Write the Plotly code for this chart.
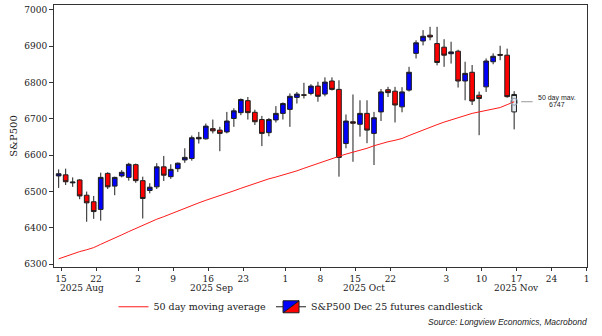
import pandas as pd
import plotly.graph_objects as go

# Daily S&P500 Dec 25 futures bars (trading days, Labor Day closed)
dates = [
    "2025-08-14", "2025-08-15", "2025-08-18", "2025-08-19", "2025-08-20", "2025-08-21",
    "2025-08-22", "2025-08-25", "2025-08-26", "2025-08-27", "2025-08-28", "2025-08-29",
    "2025-09-02", "2025-09-03", "2025-09-04", "2025-09-05", "2025-09-08", "2025-09-09",
    "2025-09-10", "2025-09-11", "2025-09-12", "2025-09-15", "2025-09-16", "2025-09-17",
    "2025-09-18", "2025-09-19", "2025-09-22", "2025-09-23", "2025-09-24", "2025-09-25",
    "2025-09-26", "2025-09-29", "2025-09-30", "2025-10-01", "2025-10-02", "2025-10-03",
    "2025-10-06", "2025-10-07", "2025-10-08", "2025-10-09", "2025-10-10", "2025-10-13",
    "2025-10-14", "2025-10-15", "2025-10-16", "2025-10-17", "2025-10-20", "2025-10-21",
    "2025-10-22", "2025-10-23", "2025-10-24", "2025-10-27", "2025-10-28", "2025-10-29",
    "2025-10-30", "2025-10-31", "2025-11-03", "2025-11-04", "2025-11-05", "2025-11-06",
    "2025-11-07", "2025-11-10", "2025-11-11", "2025-11-12", "2025-11-13", "2025-11-14",
]
opens = [
    6543, 6546, 6524, 6532, 6490, 6472, 6451, 6550, 6515, 6543, 6539, 6574,
    6530, 6503, 6513, 6568, 6541, 6563, 6587, 6591, 6649, 6645, 6673, 6669,
    6664, 6701, 6717, 6750, 6718, 6698, 6662, 6697, 6715, 6726, 6759, 6766,
    6770, 6790, 6768, 6804, 6781, 6632, 6692, 6685, 6715, 6660, 6719, 6780,
    6776, 6733, 6779, 6880, 6914, 6930, 6907, 6897, 6879, 6886, 6804, 6828,
    6765, 6788, 6857, 6877, 6875, 6719,
]
highs = [
    6561, 6563, 6539, 6534, 6500, 6488, 6552, 6553, 6541, 6559, 6579, 6577,
    6541, 6523, 6578, 6598, 6575, 6580, 6619, 6654, 6664, 6687, 6698, 6678,
    6719, 6729, 6756, 6760, 6725, 6708, 6702, 6735, 6745, 6770, 6774, 6799,
    6795, 6802, 6814, 6814, 6806, 6712, 6767, 6751, 6751, 6719, 6782, 6788,
    6788, 6787, 6843, 6916, 6944, 6953, 6953, 6919, 6912, 6890, 6857, 6848,
    6775, 6866, 6880, 6901, 6893, 6776,
]
lows = [
    6510, 6518, 6513, 6479, 6417, 6425, 6420, 6507, 6490, 6539, 6530, 6524,
    6426, 6495, 6507, 6529, 6535, 6554, 6579, 6585, 6632, 6643, 6660, 6611,
    6660, 6678, 6710, 6698, 6683, 6625, 6652, 6690, 6698, 6678, 6742, 6756,
    6765, 6747, 6762, 6778, 6541, 6619, 6582, 6651, 6633, 6573, 6694, 6760,
    6690, 6718, 6775, 6866, 6902, 6916, 6847, 6843, 6852, 6786, 6751, 6738,
    6655, 6774, 6850, 6861, 6758, 6671,
]
closes = [
    6549, 6527, 6526, 6488, 6469, 6445, 6539, 6513, 6539, 6553, 6575, 6530,
    6481, 6512, 6568, 6545, 6561, 6578, 6594, 6648, 6645, 6680, 6667, 6660,
    6694, 6722, 6753, 6717, 6692, 6660, 6698, 6715, 6742, 6762, 6768, 6765,
    6790, 6762, 6801, 6781, 6594, 6694, 6688, 6715, 6669, 6703, 6774, 6772,
    6738, 6774, 6828, 6909, 6927, 6925, 6855, 6875, 6884, 6804, 6825, 6749,
    6756, 6859, 6872, 6875, 6761, 6767,
]
ma50 = [
    6315, 6322, 6329, 6335, 6340, 6346, 6355, 6363, 6372, 6381, 6390, 6399,
    6408, 6416, 6424, 6431, 6439, 6447, 6454, 6461, 6469, 6476, 6482, 6489,
    6496, 6502, 6509, 6516, 6522, 6528, 6535, 6540, 6545, 6550, 6557, 6564,
    6571, 6578, 6585, 6591, 6597, 6603, 6608, 6613, 6619, 6626, 6632, 6637,
    6641, 6646, 6654, 6662, 6670, 6677, 6684, 6691, 6697, 6703, 6710, 6715,
    6719, 6723, 6727, 6731, 6739, 6747,
]

tick_dates = [
    "2025-08-15", "2025-08-22", "2025-09-02", "2025-09-09", "2025-09-16", "2025-09-23",
    "2025-10-01", "2025-10-08", "2025-10-15", "2025-10-22", "2025-11-03", "2025-11-10",
    "2025-11-17", "2025-11-24", "2025-12-01",
]
tick_labels = ["15", "22", "2", "9", "16", "23", "1", "8", "15", "22", "3", "10", "17", "24", "1"]
month_labels = ["2025 Aug", "2025 Sep", "2025 Oct", "2025 Nov"]
y_ticks = [6300, 6400, 6500, 6600, 6700, 6800, 6900, 7000]

# bars stamped at the 16:00 cash close
x = pd.to_datetime(dates) + pd.Timedelta(hours=16)

EDGE = "#1e1e1e"
SERIF = "DejaVu Serif"

fig = go.Figure()

fig.add_trace(go.Scatter(
    x=x, y=ma50, mode="lines", name="50 day moving average",
    line=dict(color="#ff1a1a", width=1),
))

# completed sessions
fig.add_trace(go.Candlestick(
    x=x[:-1], open=opens[:-1], high=highs[:-1], low=lows[:-1], close=closes[:-1],
    name="S&P500 Dec 25 futures candlestick",
    increasing=dict(fillcolor="#0000ff", line=dict(color=EDGE, width=1)),
    decreasing=dict(fillcolor="#ff0000", line=dict(color=EDGE, width=1)),
    whiskerwidth=0,
))

# latest session, shaded light grey
fig.add_trace(go.Candlestick(
    x=x[-1:], open=opens[-1:], high=highs[-1:], low=lows[-1:], close=closes[-1:],
    showlegend=False,
    increasing=dict(fillcolor="#e4e9ef", line=dict(color=EDGE, width=1)),
    decreasing=dict(fillcolor="#e4e9ef", line=dict(color=EDGE, width=1)),
    whiskerwidth=0,
))

# marker on the latest moving-average value
fig.add_trace(go.Scatter(
    x=x[-1:], y=ma50[-1:], mode="markers", showlegend=False,
    marker=dict(symbol="circle-open", size=7, color="#8c9cb0", line=dict(width=1)),
))

annotations = []
# month names under the day ticks
month_pos = ["2025-08-20", "2025-09-16 12:00", "2025-10-16 06:00", "2025-11-17"]
for pos, txt in zip(month_pos, month_labels):
    annotations.append(dict(
        x=pos, xref="x", y=-0.081, yref="paper", text=txt, showarrow=False,
        xanchor="center", yanchor="middle", font=dict(family=SERIF, size=9, color="#1a1a1a"),
    ))

# label for the latest moving-average value
last_x = x[-1]
last_ma = ma50[-1]
annotations.append(dict(
    x=last_x, y=last_ma, xref="x", yref="y", text="", showarrow=True,
    ax=20, ay=0, arrowhead=0, arrowwidth=1, arrowcolor="#9a9a9a", standoff=7,
))
annotations.append(dict(
    x=last_x, y=last_ma, xref="x", yref="y", text="50 day mav.", showarrow=False,
    xshift=43, yshift=4, xanchor="center", yanchor="middle",
    font=dict(family="Liberation Sans", size=7, color="#222222"),
))
annotations.append(dict(
    x=last_x, y=last_ma, xref="x", yref="y", text=f"{last_ma}", showarrow=False,
    xshift=43, yshift=-3, xanchor="center", yanchor="middle",
    font=dict(family="Liberation Sans", size=7, color="#222222"),
))

annotations.append(dict(
    x=1.004, xref="paper", y=-0.21, yref="paper", xanchor="right", yanchor="middle",
    text="Source: Longview Economics, Macrobond", showarrow=False,
    font=dict(family="Liberation Sans", size=8.5, color="#222222", style="italic"),
))

fig.update_layout(
    width=602, height=336,
    margin=dict(l=54, r=15, t=5, b=69),
    paper_bgcolor="white", plot_bgcolor="white",
    font=dict(family=SERIF, size=9, color="#1a1a1a"),
    boxgap=0.05,
    showlegend=True,
    legend=dict(
        orientation="h", xref="container", yref="container",
        x=0.5, xanchor="center", y=0.087, yanchor="middle",
        font=dict(family=SERIF, size=9.5, color="#1a1a1a"),
        itemwidth=30, traceorder="normal", bgcolor="rgba(0,0,0,0)",
    ),
    annotations=annotations,
    xaxis=dict(
        type="date",
        range=["2025-08-14", "2025-12-01 01:30"],
        rangebreaks=[dict(bounds=["sat", "mon"]), dict(values=["2025-09-01"])],
        tickmode="array", tickvals=tick_dates, ticktext=tick_labels,
        ticks="outside", ticklen=3, tickcolor="#333333",
        showline=True, mirror=True, linecolor="#333333", linewidth=1,
        showgrid=False, zeroline=False,
        rangeslider=dict(visible=False),
        tickfont=dict(family=SERIF, size=9),
    ),
    yaxis=dict(
        range=[6292.6, 7013],
        tickmode="array", tickvals=y_ticks,
        ticks="outside", ticklen=4, tickcolor="#333333",
        showline=True, mirror=True, linecolor="#333333", linewidth=1,
        showgrid=False, zeroline=False,
        tickfont=dict(family=SERIF, size=9),
        title=dict(text="S&P500", standoff=4, font=dict(family=SERIF, size=10)),
    ),
)

fig.write_html("out.html")
